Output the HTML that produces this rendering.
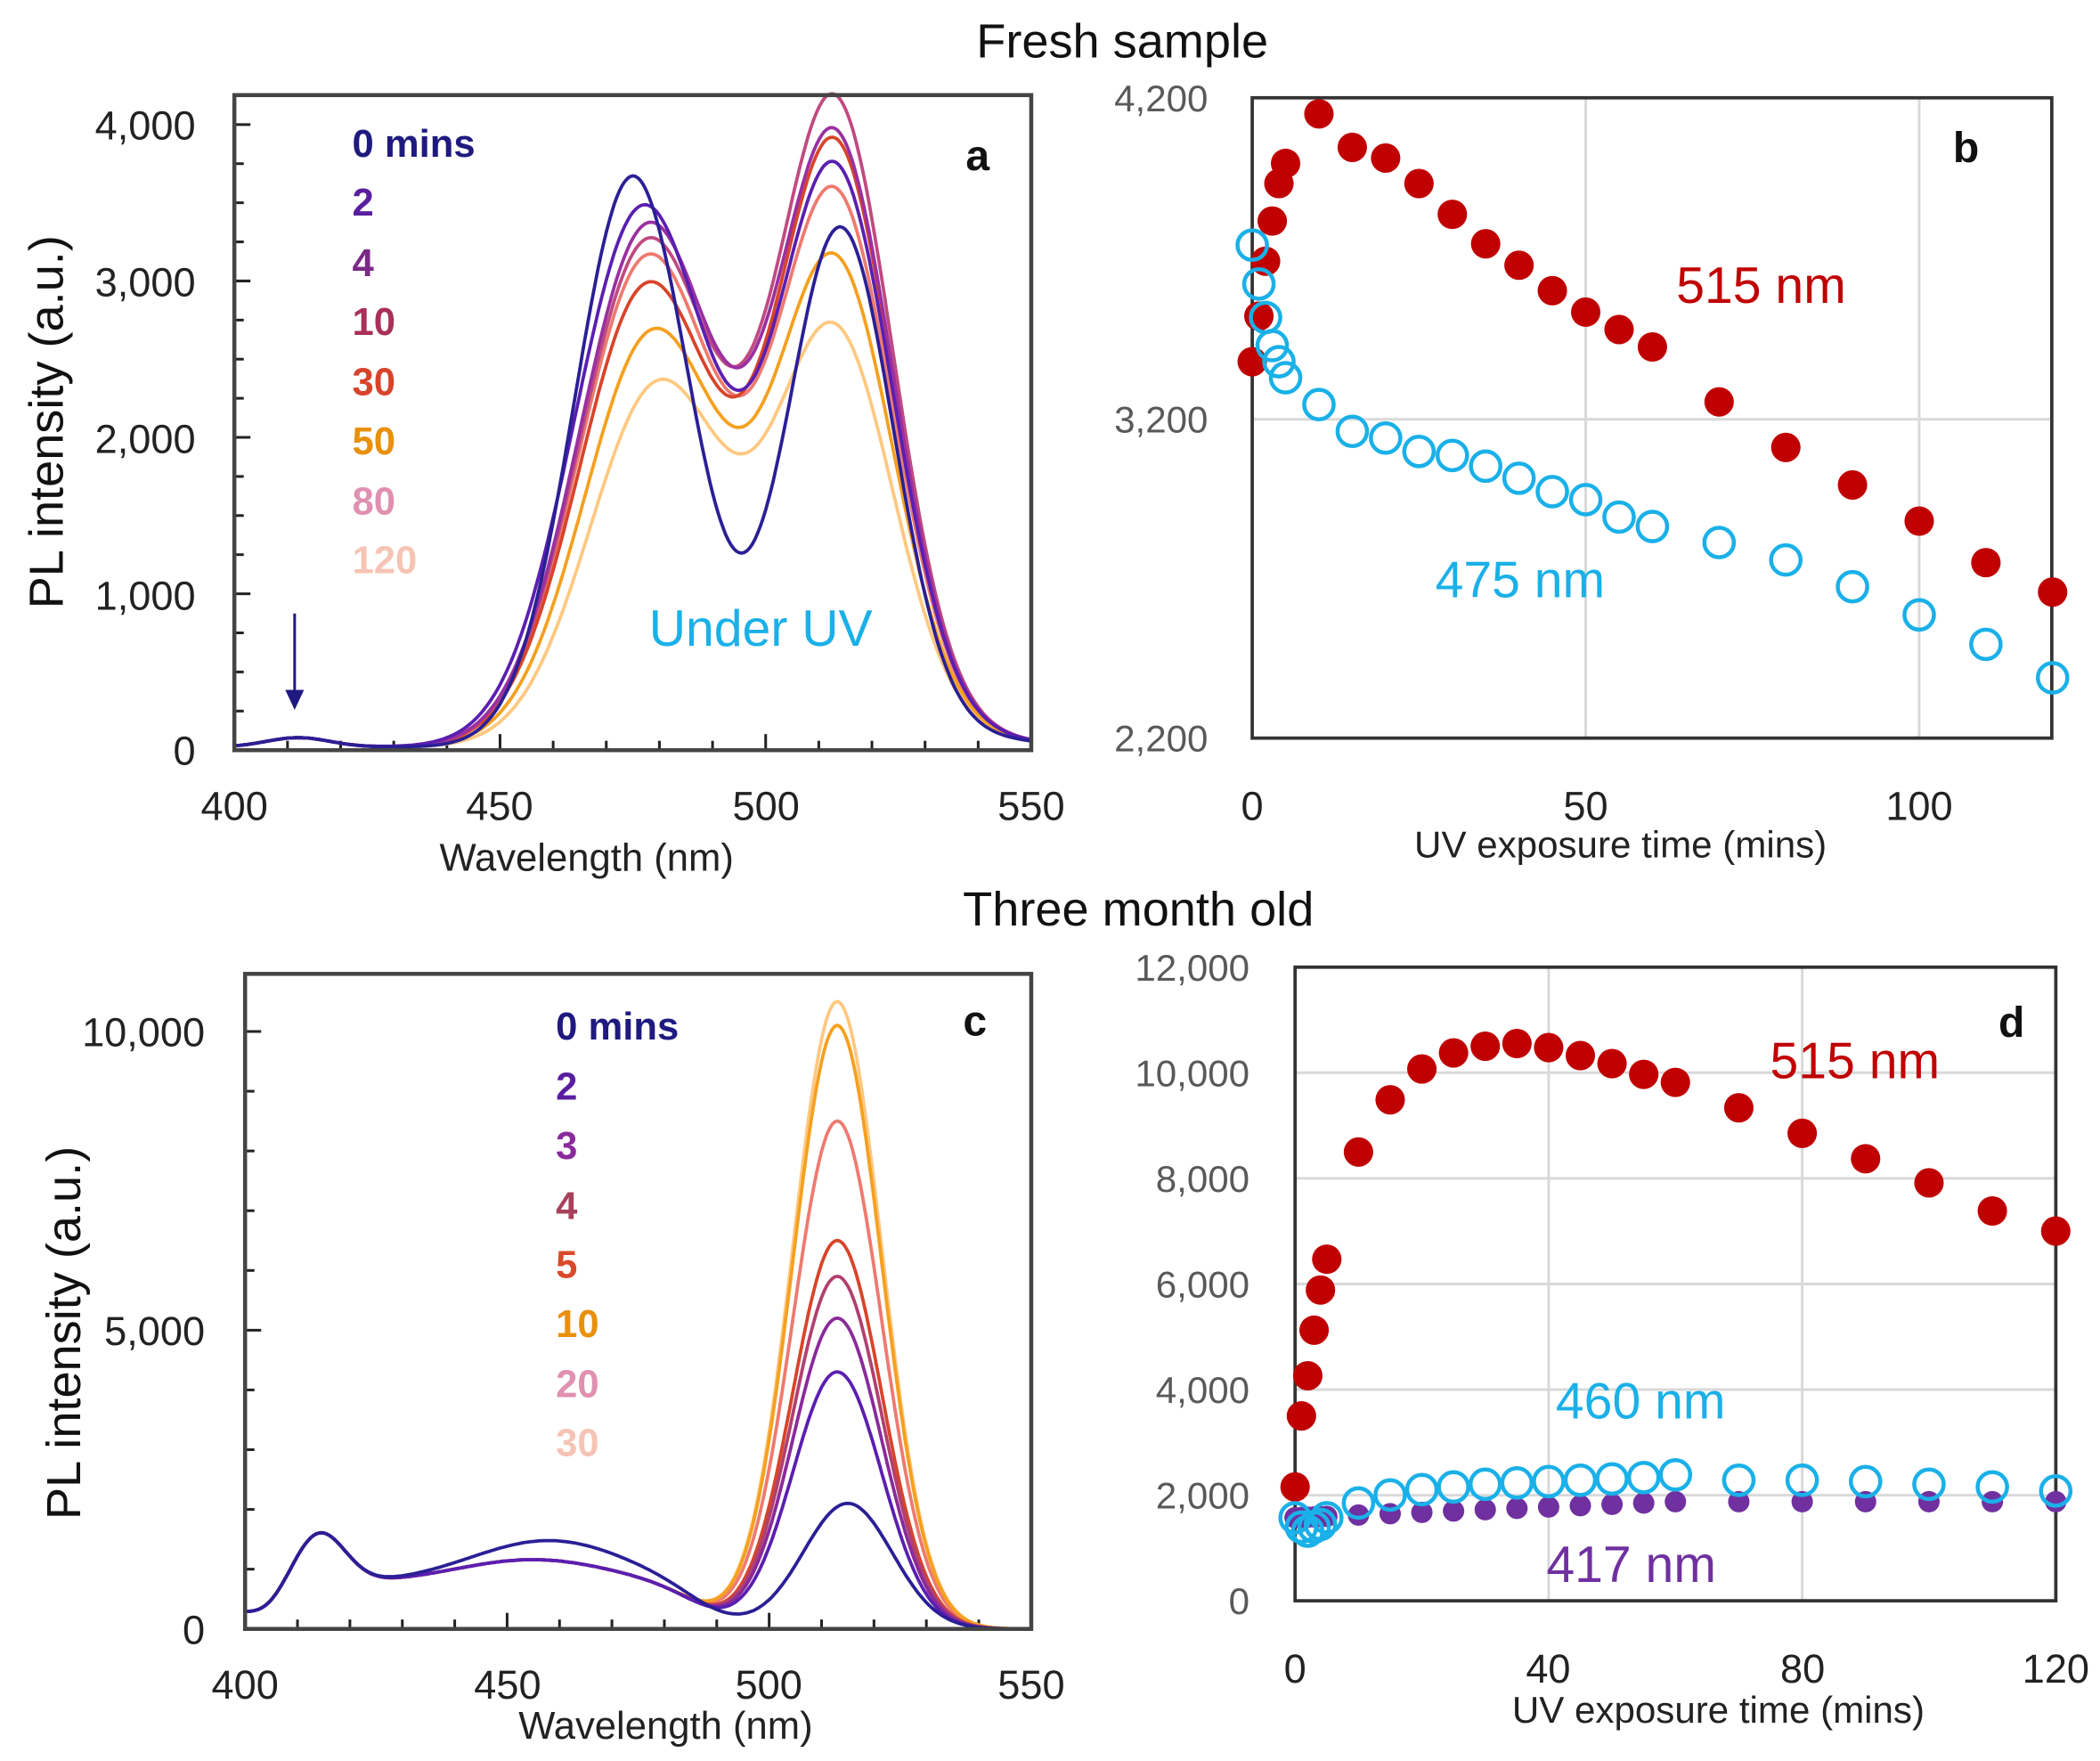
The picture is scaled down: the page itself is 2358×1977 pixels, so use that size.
<!DOCTYPE html>
<html><head><meta charset="utf-8"><style>
html,body{margin:0;padding:0;background:#fff}
svg{display:block}
text{font-family:"Liberation Sans",sans-serif}
</style></head><body>
<svg id="s" width="2358" height="1977" viewBox="0 0 1568 1314.6" preserveAspectRatio="none" xmlns="http://www.w3.org/2000/svg">
<rect width="1568" height="1315" fill="#fff"/>
<text x="838" y="43" font-size="36" text-anchor="middle" fill="#111">Fresh sample</text>
<text x="850" y="691" font-size="36" text-anchor="middle" fill="#111">Three month old</text>

<!-- Panel a -->
<g id="pa"></g>
<rect x="175" y="71" width="595" height="489" fill="none" stroke="#444" stroke-width="3"/>
<g font-size="30" fill="#222" text-anchor="end">
<text x="146" y="104">4,000</text><text x="146" y="221">3,000</text><text x="146" y="338">2,000</text><text x="146" y="455">1,000</text><text x="146" y="571">0</text>
</g>
<g font-size="30" fill="#222" text-anchor="middle">
<text x="175" y="612">400</text><text x="373" y="612">450</text><text x="572" y="612">500</text><text x="770" y="612">550</text>
</g>
<text x="438" y="650" font-size="29" text-anchor="middle" fill="#222">Wavelength (nm)</text>
<text transform="translate(47,315) rotate(-90)" font-size="36" text-anchor="middle" fill="#111">PL intensity  (a.u.)</text>
<text x="730" y="127" font-size="32" font-weight="bold" text-anchor="middle" fill="#111">a</text>
<g font-size="29" font-weight="bold">
<text x="263" y="117" fill="#1f1a80">0 mins</text>
<text x="263" y="161" fill="#5a1fa0">2</text>
<text x="263" y="206" fill="#7a2a86">4</text>
<text x="263" y="250" fill="#a8305a">10</text>
<text x="263" y="295" fill="#d8442a">30</text>
<text x="263" y="339" fill="#e8900a">50</text>
<text x="263" y="384" fill="#e090b0">80</text>
<text x="263" y="428" fill="#f6c4b4">120</text>
</g>
<text x="568" y="482" font-size="38" text-anchor="middle" fill="#1ab0e8">Under UV</text>
<line x1="220" y1="458" x2="220" y2="518" stroke="#1f1a80" stroke-width="2"/>
<polygon points="213,515 227,515 220,530" fill="#1f1a80"/>

<!-- Panel b -->
<rect x="935" y="73" width="597" height="478" fill="#fff"/>
<g stroke="#d9d9d9" stroke-width="2">
<line x1="1184" y1="73" x2="1184" y2="551"/><line x1="1433" y1="73" x2="1433" y2="551"/><line x1="935" y1="313" x2="1532" y2="313"/>
</g>
<rect x="935" y="73" width="597" height="478" fill="none" stroke="#333" stroke-width="2.5"/>
<g font-size="28" fill="#595959" text-anchor="end">
<text x="902" y="83">4,200</text><text x="902" y="323">3,200</text><text x="902" y="561">2,200</text>
</g>
<g font-size="30" fill="#222" text-anchor="middle">
<text x="935" y="612">0</text><text x="1184" y="612">50</text><text x="1433" y="612">100</text>
</g>
<text x="1210" y="640" font-size="28" text-anchor="middle" fill="#222">UV exposure time (mins)</text>
<text x="1468" y="121" font-size="32" font-weight="bold" text-anchor="middle" fill="#111">b</text>
<text x="1315" y="226" font-size="38" text-anchor="middle" fill="#c00000">515 nm</text>
<text x="1135" y="446" font-size="38" text-anchor="middle" fill="#1ab0e8">475 nm</text>
<g id="pb"></g>

<!-- Panel c -->
<g id="pc"></g>
<rect x="183" y="727" width="587" height="489" fill="none" stroke="#444" stroke-width="3"/>
<g font-size="30" fill="#222" text-anchor="end">
<text x="153" y="781">10,000</text><text x="153" y="1004">5,000</text><text x="153" y="1227">0</text>
</g>
<g font-size="30" fill="#222" text-anchor="middle">
<text x="183" y="1268">400</text><text x="379" y="1268">450</text><text x="574" y="1268">500</text><text x="770" y="1268">550</text>
</g>
<text x="497" y="1298" font-size="29" text-anchor="middle" fill="#222">Wavelength (nm)</text>
<text transform="translate(60,995) rotate(-90)" font-size="36" text-anchor="middle" fill="#111">PL intensity  (a.u.)</text>
<text x="728" y="773" font-size="32" font-weight="bold" text-anchor="middle" fill="#111">c</text>
<g font-size="29" font-weight="bold">
<text x="415" y="776" fill="#1f1a80">0 mins</text>
<text x="415" y="821" fill="#5a1fa0">2</text>
<text x="415" y="865" fill="#8a2a9a">3</text>
<text x="415" y="910" fill="#a8405a">4</text>
<text x="415" y="954" fill="#d84a2a">5</text>
<text x="415" y="998" fill="#e8900a">10</text>
<text x="415" y="1043" fill="#e090b0">20</text>
<text x="415" y="1087" fill="#f6c4b4">30</text>
</g>

<!-- Panel d -->
<g stroke="#d9d9d9" stroke-width="2" id="gd"></g>
<rect x="967" y="722" width="568" height="473" fill="none" stroke="#333" stroke-width="2.5"/>
<g font-size="28" fill="#595959" text-anchor="end" id="td"></g>
<g font-size="30" fill="#222" text-anchor="middle">
<text x="967" y="1256">0</text><text x="1156" y="1256">40</text><text x="1346" y="1256">80</text><text x="1535" y="1256">120</text>
</g>
<text x="1283" y="1286" font-size="28" text-anchor="middle" fill="#222">UV exposure time (mins)</text>
<text x="1502" y="774" font-size="32" font-weight="bold" text-anchor="middle" fill="#111">d</text>
<text x="1385" y="805" font-size="38" text-anchor="middle" fill="#c00000">515 nm</text>
<text x="1225" y="1059" font-size="38" text-anchor="middle" fill="#1ab0e8">460 nm</text>
<text x="1218" y="1181" font-size="38" text-anchor="middle" fill="#7030a0">417 nm</text>
<g id="pd"></g>
</svg>
<script>
var NS="http://www.w3.org/2000/svg";
function el(p,t,a){var e=document.createElementNS(NS,t);for(var k in a)e.setAttribute(k,a[k]);document.getElementById(p).appendChild(e);return e;}
function g(x,c,s){return Math.exp(-(x-c)*(x-c)/(2*s*s));}
function sig(z){return 1/(1+Math.exp(-z));}
for(var v=0;v<=4000;v+=250){var y=560-v*0.11675;el("pa","line",{x1:175,y1:y,x2:v%1000?182:187,y2:y,stroke:"#222","stroke-width":2});}
for(var w=400;w<=550;w+=10){var x=175+(w-400)*3.967;el("pa","line",{x1:x,y1:560,x2:x,y2:w%50?553:548,stroke:"#222","stroke-width":2});}
var A=[["#2a1f95",3650,3300,475,11,514,10],["#5a1fb0",3450,3650,477,13,513,11],["#9a30a0",3330,3850,478,13,513,11],["#c04a80",3230,4070,478,13,513,11],["#d8442a",2950,3800,478,13,513,11],["#f5a020",2650,3050,479,13,513,11],["#ee7a70",3130,3480,478,13,513,11],["#ffc880",2320,2600,480,13,513,11]];
A.slice().reverse().forEach(function(p){var d="";for(var w=400;w<=550;w+=0.5){var v=p[1]*g(w,p[3],p[4])+p[2]*g(w,p[5],p[6])+60*g(w,412,6)+20+60*g(w,535,14);var x=175+(w-400)*3.967,y=560-v*0.11675;d+=(d?"L":"M")+x.toFixed(1)+","+y.toFixed(1);}el("pa","path",{d:d,fill:"none",stroke:p[0],"stroke-width":2.5});});
var t=[0,1,2,3,4,5,10,15,20,25,30,35,40,45,50,55,60,70,80,90,100,110,120];
var rb=[270,236,195,165,137,122,85,110,118,137,160,182,198,217,233,246,259,300,334,362,389,420,442];
var bb=[183,212,237,258,270,282,302,322,327,337,340,348,357,367,373,386,393,405,418,438,459,481,506];
t.forEach(function(m,i){el("pb","circle",{cx:935+m*4.98,cy:rb[i],r:11,fill:"#c00000"});});
t.forEach(function(m,i){el("pb","circle",{cx:935+m*4.98,cy:bb[i],r:11,fill:"none",stroke:"#1ab0e8","stroke-width":3});});
for(var v=0;v<=10000;v+=1000){var y=1216-v*0.0446;el("pc","line",{x1:183,y1:y,x2:v%5000?190:195,y2:y,stroke:"#222","stroke-width":2});}
for(var w=400;w<=550;w+=10){var x=183+(w-400)*3.913;el("pc","line",{x1:x,y1:1216,x2:x,y2:w%50?1209:1204,stroke:"#222","stroke-width":2});}
var C=[["#2a1f95",2100,515,720,458],["#5a1fb0",4300,513,400,455],["#8a2a9a",5200,513,400,455],["#b04070",5900,513,400,455],["#d8442a",6500,513,400,455],["#f5a020",10100,513,400,455],["#ee7a70",8500,513,400,455],["#ffc880",10500,513,400,455]];
C.slice().reverse().forEach(function(p){var d="";for(var w=400;w<=550;w+=0.5){var base=760*sig((w-407)/3)*sig(-(w-486)/4.5);var v=900*g(w,414,5)+p[3]*g(w,p[4],15)+base+p[1]*g(w,p[2],8.5)+280*sig(-(w-402)/2);var x=183+(w-400)*3.913,y=1216-v*0.0446;d+=(d?"L":"M")+x.toFixed(1)+","+y.toFixed(1);}el("pc","path",{d:d,fill:"none",stroke:p[0],"stroke-width":2.5});});
for(var v=2000;v<12000;v+=2000){var y=1195-v*0.03942;el("gd","line",{x1:967,y1:y,x2:1535,y2:y});}
[40,80].forEach(function(m){var x=967+m*4.733;el("gd","line",{x1:x,y1:722,x2:x,y2:1195});});
for(var v=0;v<=12000;v+=2000){var y=1195-v*0.03942;var e=el("td","text",{x:933,y:y+10});e.textContent=v?(v/1000)+",000":"0";}
var rd=[1110,1057,1027,993,963,940,860,821,798,786,781,779,782,788,794,802,808,827,846,865,883,904,919];
var bd=[1133,1140,1143,1140,1138,1133,1122,1116,1112,1110,1108,1107,1106,1105,1104,1103,1101,1105,1105,1106,1108,1110,1113];
t.forEach(function(m,i){el("pd","circle",{cx:967+m*4.733,cy:1133-Math.min(m,60)*0.2,r:8,fill:"#7030a0"});});
t.forEach(function(m,i){el("pd","circle",{cx:967+m*4.733,cy:rd[i],r:11,fill:"#c00000"});});
t.forEach(function(m,i){el("pd","circle",{cx:967+m*4.733,cy:bd[i],r:11,fill:"none",stroke:"#1ab0e8","stroke-width":3});});
</script>
</body></html>
